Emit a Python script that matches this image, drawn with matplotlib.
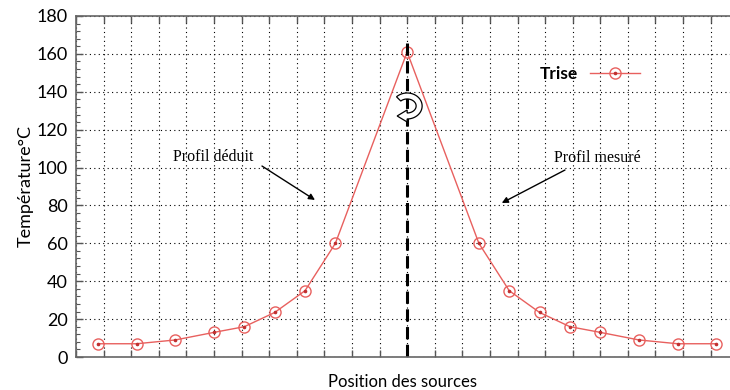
import matplotlib

matplotlib.use("Agg")
import matplotlib.pyplot as plt
import numpy as np
from matplotlib.patches import PathPatch
from matplotlib.path import Path
from matplotlib.transforms import Affine2D
from matplotlib.ticker import MultipleLocator

# source positions (grid units) and temperature rise
positions = [0.8, 2.2, 3.6, 5.0, 6.1, 7.2, 8.3, 9.4, 12.0,
             14.6, 15.7, 16.8, 17.9, 19.0, 20.4, 21.8, 23.2]
trise = [7, 7, 9, 13, 16, 23.5, 35, 60, 161,
         60, 35, 23.5, 16, 13, 9, 7, 7]
symmetry_x = 12.0

RED = "#e8605e"


def rotation_symbol(ax, x, y):
    # curled arrow drawn in pixel offsets around a data point
    ang = np.radians(np.linspace(135, -90, 40))
    outer = np.column_stack([15 * np.cos(ang), 13 * np.sin(ang)])
    inner = np.column_stack([9 * np.cos(ang), 7 * np.sin(ang)])[::-1]
    head = np.array([[0, -16], [-10, -10], [0, -4]])
    pts = np.vstack([outer, head, inner, outer[:1]])
    codes = [Path.MOVETO] + [Path.LINETO] * (len(pts) - 2) + [Path.CLOSEPOLY]
    cx, cy = ax.transData.transform((x, y))
    patch = PathPatch(Path(pts, codes), facecolor="white", edgecolor="black",
                      linewidth=0.9, transform=Affine2D().translate(cx, cy),
                      zorder=5)
    ax.add_artist(patch)


def main() -> None:
    plt.rcParams.update({"font.family": ["Lato", "DejaVu Sans"]})

    fig = plt.figure(figsize=(7.3, 3.9), dpi=100)
    ax = fig.add_axes([0.1041, 0.0846, 0.8959, 0.8744])

    line, = ax.plot(positions, trise, color=RED, linewidth=1.0, marker="o",
                    markersize=8, markerfacecolor="none", markeredgecolor=RED,
                    markeredgewidth=1.0)
    dots, = ax.plot(positions, trise, linestyle="none", marker="o",
                    markersize=1.6, color="#c03030")

    ax.set_xlim(0, 23.7)
    ax.set_ylim(0, 180)
    ax.xaxis.set_major_locator(MultipleLocator(1))
    ax.yaxis.set_major_locator(MultipleLocator(20))
    ax.yaxis.set_minor_locator(MultipleLocator(4))
    ax.set_xticklabels([])
    ax.tick_params(axis="x", direction="in", length=5, width=1.0,
                   color="#555555", top=True, bottom=True)
    ax.tick_params(axis="y", which="major", direction="in", length=5,
                   width=1.0, color="#555555", labelsize=13, pad=6)
    ax.tick_params(axis="y", which="minor", direction="in", length=3,
                   width=0.8, color="#555555")
    ax.grid(True, which="major", color="black", linestyle=(0, (1, 3)),
            linewidth=0.8)
    for side in ("left", "top", "bottom"):
        ax.spines[side].set_color("#666666")
        ax.spines[side].set_linewidth(1.2)
    ax.spines["right"].set_visible(False)

    ax.set_ylabel("Température°C", fontsize=13, labelpad=2)
    ax.set_xlabel("Position des sources", fontsize=12, labelpad=9)

    # symmetry axis, running just below the frame
    ax.plot([symmetry_x, symmetry_x], [166, -2.8], color="black",
            linewidth=2.2, linestyle=(0, (4, 1.8)), clip_on=False)

    rotation_symbol(ax, symmetry_x, 132.5)

    ax.text(4.96, 105.6, "Profil déduit", fontsize=11.5,
            family="Liberation Serif", ha="center", va="center")
    ax.annotate("", xy=(8.66, 82.9), xytext=(6.74, 100.8),
                arrowprops=dict(arrowstyle="-|>", color="black", lw=1.0,
                                shrinkA=0, shrinkB=0, mutation_scale=9))
    ax.text(18.88, 105, "Profil mesuré", fontsize=11.5,
            family="Liberation Serif", ha="center", va="center")
    ax.annotate("", xy=(15.43, 81.3), xytext=(17.72, 98.7),
                arrowprops=dict(arrowstyle="-|>", color="black", lw=1.0,
                                shrinkA=0, shrinkB=0, mutation_scale=9))

    ax.legend([(line, dots)], ["Trise"], loc="upper left",
              bbox_to_anchor=(0.685, 0.9), frameon=False, markerfirst=False,
              prop={"size": 12.5, "weight": "bold"}, handlelength=2.9,
              handletextpad=0.7)

    fig.savefig("out.png", dpi=100)


if __name__ == "__main__":
    main()
